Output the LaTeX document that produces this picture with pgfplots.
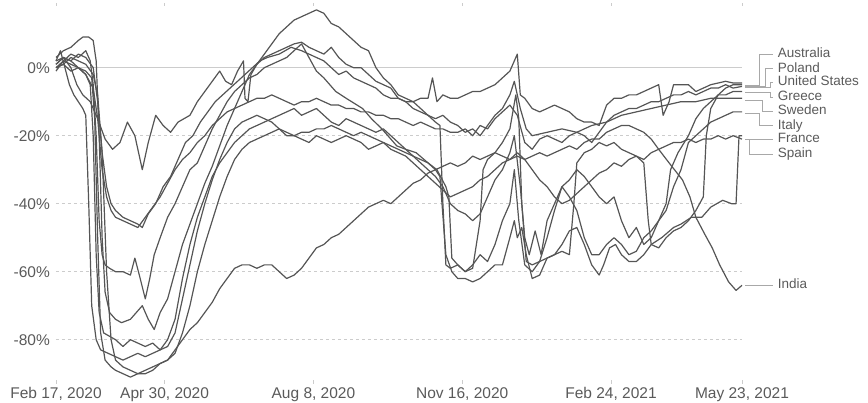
\documentclass[border=0pt]{standalone}
\usepackage{fontspec}
\setmainfont{Liberation Sans}
\usepackage{pgfplots}
\pgfplotsset{compat=1.18}
\definecolor{ln}{HTML}{555555}
\definecolor{gridc}{HTML}{CCCCCC}
\definecolor{txt}{HTML}{5A5A5A}
\definecolor{lead}{HTML}{A8A8A8}
\begin{document}
\begin{tikzpicture}
\path[use as bounding box] (-56bp,-22.5bp) rectangle (812bp,380.5bp);
\begin{axis}[
  at={(0,0)}, anchor=south west,
  scale only axis, width=686bp, height=374bp,
  xmin=0, xmax=461, ymin=-92, ymax=18,
  clip=false,
  axis line style={draw=none},
  xtick={0,73,173,273,373,461},
  xticklabels={{Feb 17, 2020},{Apr 30, 2020},{Aug 8, 2020},{Nov 16, 2020},{Feb 24, 2021},{May 23, 2021}},
  ytick={-80,-60,-40,-20},
  yticklabels={-80\%,-60\%,-40\%,-20\%},
  ymajorgrids,
  grid style={draw=gridc, line width=0.8bp, dash pattern=on 3bp off 3bp},
  extra y ticks={0}, extra y tick labels={0\%},
  extra y tick style={grid=major, major tick length=0pt, grid style={solid, draw=gridc, line width=1.3bp}},
  xtick align=outside,
  major tick length=3bp,
  xtick style={draw=gridc, line width=0.8bp},
  ytick style={draw=none},
  tick label style={font=\fontsize{15.5bp}{18bp}\selectfont, text=txt},
  xticklabel style={anchor=base, inner sep=0pt, yshift=-15.5bp},
  yticklabel style={anchor=east, inner sep=0pt, xshift=-6bp},
  ser/.style={draw=ln, solid, line width=1.2bp, line join=round, mark=none},
]
% Sweden
\addplot[ser] coordinates {(0,2) (5,3) (10,0) (14,-5) (18,-8) (23,-10) (28,-15) (33,-21) (38,-24) (43,-22) (48,-16) (53,-20) (58,-30) (62,-22) (67,-14) (72,-17) (77,-19) (82,-16) (90,-14) (95,-10) (100,-7) (105,-4) (110,-1) (114,-4) (118,-5) (122,-1) (126,2) (127,-9) (129,-10) (131,-2) (135,1) (140,3) (145,4) (150,5) (160,7) (165,7.5) (170,6) (175,5) (180,4) (185,6) (190,3) (195,1) (200,0) (205,0) (210,-2) (215,-4) (220,-5) (225,-6) (230,-9) (235,-10) (240,-12) (250,-14) (255,-15) (260,-14) (265,-16) (270,-17) (275,-19) (280,-18) (285,-20) (290,-17) (295,-14) (300,-12) (305,-8) (308,-4) (312,-12) (316,-18) (320,-20) (330,-19) (340,-18) (350,-19) (360,-17) (370,-16) (380,-14) (390,-13) (400,-12) (410,-11) (420,-10) (430,-10) (440,-9) (450,-9) (461,-9)};
% Greece
\addplot[ser] coordinates {(0,3) (5,5) (10,6) (15,8) (18,9) (22,9) (25,8) (27,2) (29,-20) (31,-50) (33,-66) (36,-72) (40,-74) (44,-75) (50,-74) (54,-72) (58,-70) (62,-74) (66,-77) (70,-72) (75,-68) (80,-60) (85,-52) (90,-46) (95,-40) (100,-34) (105,-29) (110,-23) (115,-17) (120,-12) (125,-7) (130,-2) (135,1) (140,4) (145,7) (150,10) (155,12) (160,14) (165,15) (170,16) (175,17) (180,16) (185,13) (190,12) (195,10) (200,8) (205,6) (210,5) (215,0) (220,-3) (225,-5) (230,-8) (235,-9) (240,-10) (245,-12) (250,-14) (255,-16) (258,-17) (260,-40) (262,-58) (265,-59) (270,-58) (275,-60) (280,-58) (285,-55) (290,-57) (295,-52) (300,-45) (305,-40) (308,-30) (311,-45) (315,-58) (320,-60) (325,-57) (330,-50) (335,-42) (340,-35) (345,-38) (350,-42) (355,-50) (360,-55) (365,-55) (370,-52) (375,-50) (380,-52) (385,-55) (390,-54) (395,-50) (400,-48) (405,-45) (410,-40) (413,-30) (418,-25) (425,-20) (430,-15) (435,-12) (440,-10) (445,-8) (450,-8) (455,-7) (461,-7)};
% Australia
\addplot[ser] coordinates {(0,1) (5,3) (10,2) (15,4) (20,3) (25,0) (28,-10) (31,-25) (34,-35) (37,-40) (40,-42) (45,-44) (50,-45) (55,-46) (58,-47) (62,-43) (67,-40) (72,-35) (77,-32) (82,-27) (87,-22) (92,-20) (97,-16) (102,-13) (107,-10) (112,-8) (117,-6) (122,-4) (127,-2) (132,0) (137,2) (142,3) (150,4) (158,6) (165,5) (170,4) (175,3) (180,2) (185,0) (190,-2) (195,-1) (200,-3) (205,-4) (210,-5) (215,-6) (220,-8) (225,-9) (230,-9) (235,-10) (240,-10) (245,-9) (250,-9) (253,-3) (256,-10) (260,-8) (265,-9) (270,-9) (275,-8) (280,-7) (285,-7) (290,-6) (295,-5) (300,-3) (305,-1) (310,4) (312,-8) (315,-9) (320,-12) (325,-13) (330,-12) (335,-11) (340,-12) (345,-13) (350,-15) (355,-16) (360,-16) (365,-17) (370,-11) (375,-9) (380,-9) (385,-8) (390,-8) (395,-7) (400,-6) (405,-5) (408,-14) (412,-10) (415,-5) (420,-5) (425,-5) (430,-7) (435,-6) (440,-5) (445,-4.5) (450,-4) (455,-4.5) (461,-4.5)};
% United States
\addplot[ser] coordinates {(0,0) (5,2) (10,1) (15,0) (20,-2) (25,-6) (28,-15) (31,-30) (34,-38) (37,-42) (40,-44) (45,-45) (50,-46) (55,-47) (60,-44) (65,-41) (70,-38) (75,-34) (80,-30) (85,-27) (90,-25) (95,-22) (100,-20) (105,-17) (110,-15) (115,-13) (120,-12) (125,-11) (130,-10) (135,-9) (140,-9) (145,-8) (150,-9) (155,-10) (160,-11) (165,-10) (170,-10) (175,-9) (180,-10) (185,-11) (190,-11) (195,-12) (200,-12) (205,-13) (210,-13) (215,-14) (220,-14) (225,-15) (230,-15) (235,-16) (240,-17) (245,-16) (250,-17) (255,-18) (260,-18) (265,-19) (270,-19) (275,-18) (280,-20) (285,-17) (290,-18) (295,-15) (300,-13) (305,-11) (310,-14) (315,-22) (320,-24) (325,-21) (330,-20) (335,-21) (340,-22) (345,-20) (350,-19) (355,-20) (360,-22) (365,-19) (370,-16) (375,-14) (380,-13) (385,-12) (390,-12) (395,-11) (400,-10) (405,-10) (410,-9) (415,-8) (420,-8) (425,-7) (430,-8) (435,-7) (440,-6) (445,-6) (450,-5) (455,-6) (461,-5.5)};
% Poland
\addplot[ser] coordinates {(0,-1) (5,2) (10,4) (15,3) (20,5) (23,2) (25,-5) (27,-20) (29,-45) (31,-55) (33,-58) (36,-59) (40,-60) (45,-60) (50,-61) (53,-56) (56,-61) (60,-68) (63,-62) (66,-55) (70,-50) (75,-44) (80,-40) (85,-35) (90,-30) (95,-28) (100,-23) (105,-18) (110,-14) (115,-10) (120,-7) (125,-5) (130,-3) (135,-2) (140,0) (145,1) (150,2) (155,3) (160,5) (165,7) (170,3) (175,-1) (180,-3) (188,-7) (195,-9) (206,-12) (212,-15) (219,-18) (225,-21) (229,-23) (235,-24) (242,-25) (250,-28) (256,-30) (262,-35) (264,-38) (266,-56) (270,-58) (275,-60) (280,-59) (285,-45) (287,-30) (290,-27) (295,-25) (300,-22) (305,-18) (309,-8) (311,-15) (313,-40) (316,-57) (320,-58) (325,-57) (330,-56) (335,-55) (340,-54) (345,-55) (348,-40) (350,-28) (355,-25) (360,-24) (365,-22) (370,-23) (375,-22) (380,-24) (385,-25) (390,-26) (395,-28) (398,-45) (400,-52) (405,-53) (410,-50) (415,-48) (420,-47) (425,-45) (430,-42) (435,-38) (437,-20) (440,-12) (445,-8) (450,-6) (455,-5) (461,-5)};
% Italy
\addplot[ser] coordinates {(0,2) (3,5) (6,0) (9,-5) (12,-8) (15,-10) (18,-12) (20,-14) (22,-40) (24,-70) (27,-80) (30,-83) (35,-84) (40,-85) (45,-86) (50,-85) (55,-84) (60,-85) (65,-84) (70,-83) (75,-80) (80,-74) (85,-62) (90,-52) (95,-44) (100,-38) (105,-32) (110,-28) (115,-25) (120,-22) (125,-20) (130,-18) (135,-17) (140,-16) (145,-15) (150,-14) (155,-13) (160,-12) (165,-14) (170,-13) (175,-12) (180,-14) (185,-16) (190,-17) (195,-15) (200,-16) (205,-17) (210,-18) (215,-19) (220,-18) (225,-20) (230,-22) (235,-24) (240,-26) (245,-28) (250,-30) (255,-32) (260,-35) (265,-40) (270,-42) (275,-43) (280,-45) (285,-43) (290,-38) (295,-33) (300,-30) (305,-25) (308,-20) (312,-35) (315,-50) (318,-55) (322,-48) (326,-55) (330,-45) (335,-40) (340,-35) (345,-33) (350,-30) (355,-32) (360,-35) (365,-38) (370,-40) (375,-38) (380,-45) (385,-50) (390,-47) (395,-52) (400,-50) (405,-45) (410,-42) (415,-35) (420,-30) (425,-22) (430,-20) (435,-18) (440,-16) (445,-15) (450,-14) (455,-13) (461,-13)};
% France
\addplot[ser] coordinates {(0,0) (5,1) (10,-1) (15,0) (20,-2) (23,-5) (25,-20) (27,-55) (29,-72) (32,-78) (36,-79) (40,-80) (45,-82) (50,-80) (55,-81) (60,-82) (65,-81) (70,-83) (75,-82) (80,-78) (85,-68) (90,-58) (95,-48) (100,-40) (105,-33) (110,-27) (115,-22) (120,-18) (125,-16) (130,-15) (135,-14) (140,-15) (145,-16) (150,-18) (155,-20) (160,-20) (165,-19) (170,-19) (175,-18) (180,-18) (185,-17) (190,-18) (195,-19) (200,-20) (205,-19) (210,-20) (215,-21) (220,-22) (225,-23) (230,-24) (235,-25) (240,-26) (245,-27) (250,-28) (255,-30) (258,-32) (262,-55) (266,-60) (270,-62) (275,-62) (280,-63) (285,-62) (290,-60) (295,-58) (300,-58) (305,-50) (308,-45) (310,-50) (313,-47) (316,-55) (320,-62) (325,-61) (330,-56) (335,-55) (340,-52) (345,-48) (350,-47) (355,-52) (360,-58) (365,-61) (368,-58) (372,-53) (376,-52) (380,-55) (385,-57) (390,-57) (395,-55) (400,-52) (407,-50) (415,-47) (420,-46) (427,-44) (434,-44) (440,-41) (448,-39) (454,-40) (457,-40) (459,-20) (461,-20)};
% Spain
\addplot[ser] coordinates {(0,1) (5,3) (10,2) (15,0) (20,-1) (24,-3) (26,-15) (28,-50) (30,-78) (33,-86) (37,-88) (40,-89) (45,-90) (50,-91) (55,-90) (60,-89) (65,-88) (70,-87) (75,-86) (80,-84) (85,-78) (90,-70) (95,-60) (100,-52) (105,-45) (110,-38) (115,-32) (120,-27) (125,-24) (130,-22) (135,-21) (140,-20) (145,-19) (150,-18) (155,-19) (160,-20) (165,-21) (170,-22) (175,-20) (180,-21) (185,-22) (190,-21) (195,-20) (200,-21) (205,-22) (210,-24) (215,-23) (220,-22) (225,-24) (230,-25) (235,-26) (240,-28) (245,-30) (250,-32) (255,-34) (260,-36) (265,-38) (270,-37) (275,-36) (280,-35) (285,-33) (290,-32) (295,-30) (300,-28) (305,-27) (310,-25) (315,-27) (320,-30) (325,-33) (330,-35) (335,-38) (340,-40) (345,-39) (350,-37) (355,-35) (360,-33) (365,-31) (370,-30) (375,-28) (380,-29) (385,-27) (390,-26) (395,-27) (400,-25) (405,-24) (410,-23) (415,-22) (420,-22) (425,-21) (430,-22) (435,-21) (440,-21) (445,-20) (450,-21) (455,-20) (461,-21)};
% India
\addplot[ser] coordinates {(0,0) (5,1) (10,3) (15,2) (20,1) (25,-2) (28,-8) (31,-25) (34,-60) (37,-80) (40,-86) (45,-88) (50,-89) (55,-90) (60,-90) (65,-89) (70,-87) (75,-86) (80,-83) (85,-80) (90,-77) (95,-75) (100,-72) (105,-69) (110,-65) (115,-62) (120,-59) (125,-58) (130,-58) (135,-59) (140,-58) (145,-58) (150,-60) (155,-62) (160,-61) (165,-59) (170,-56) (175,-53) (180,-52) (185,-50) (190,-49) (195,-47) (200,-45) (205,-43) (210,-41) (215,-40) (220,-39) (225,-40) (230,-38) (235,-36) (240,-34) (245,-33) (250,-31) (255,-30) (260,-29) (265,-28) (270,-29) (275,-28) (280,-26) (285,-27) (290,-26) (295,-25) (300,-26) (305,-27) (310,-26) (315,-27) (320,-26) (325,-25) (330,-26) (335,-25) (340,-24) (345,-23) (350,-24) (355,-22) (360,-21) (365,-21) (370,-19) (375,-18) (380,-17) (385,-17) (390,-18) (395,-19) (400,-21) (405,-24) (412,-28) (421,-33) (426,-38) (430,-44) (436,-49) (441,-53) (446,-58) (452,-63) (457,-65.5) (461,-64)};
% leader lines
\draw[lead, line width=0.8bp] (axis cs:463,-5.1) -- (axis cs:473,-5.1) -- (axis cs:473,4.0) -- (axis cs:482,4.0);
\draw[lead, line width=0.8bp] (axis cs:463,-5.4) -- (axis cs:476.5,-5.4) -- (axis cs:476.5,-0.3) -- (axis cs:482,-0.3);
\draw[lead, line width=0.8bp] (axis cs:463,-5.7) -- (axis cs:480,-5.7) -- (axis cs:480,-4.2) -- (axis cs:482,-4.2);
\draw[lead, line width=0.8bp] (axis cs:463,-7.4) -- (axis cs:480,-7.4) -- (axis cs:480,-8.7) -- (axis cs:482,-8.7);
\draw[lead, line width=0.8bp] (axis cs:463,-9.5) -- (axis cs:475,-9.5) -- (axis cs:475,-12.8) -- (axis cs:482,-12.8);
\draw[lead, line width=0.8bp] (axis cs:463,-13.3) -- (axis cs:472.5,-13.3) -- (axis cs:472.5,-17.1) -- (axis cs:482,-17.1);
\draw[lead, line width=0.8bp] (axis cs:463,-21.0) -- (axis cs:482,-21.0);
\draw[lead, line width=0.8bp] (axis cs:466,-21.0) -- (axis cs:466,-25.4) -- (axis cs:482,-25.4);
\draw[lead, line width=0.8bp] (axis cs:463,-63.9) -- (axis cs:482,-63.9);
\begin{scope}[every node/.style={anchor=mid west, inner sep=0pt, font=\fontsize{13.5bp}{16bp}\selectfont, text=txt, yshift=-1bp}]
\node at (axis cs:485,4.0) {Australia};
\node at (axis cs:485,-0.3) {Poland};
\node at (axis cs:485,-4.2) {United States};
\node at (axis cs:485,-8.7) {Greece};
\node at (axis cs:485,-12.8) {Sweden};
\node at (axis cs:485,-17.1) {Italy};
\node at (axis cs:485,-21.0) {France};
\node at (axis cs:485,-25.4) {Spain};
\node at (axis cs:485,-63.9) {India};
\end{scope}
\end{axis}
\end{tikzpicture}
\end{document}
